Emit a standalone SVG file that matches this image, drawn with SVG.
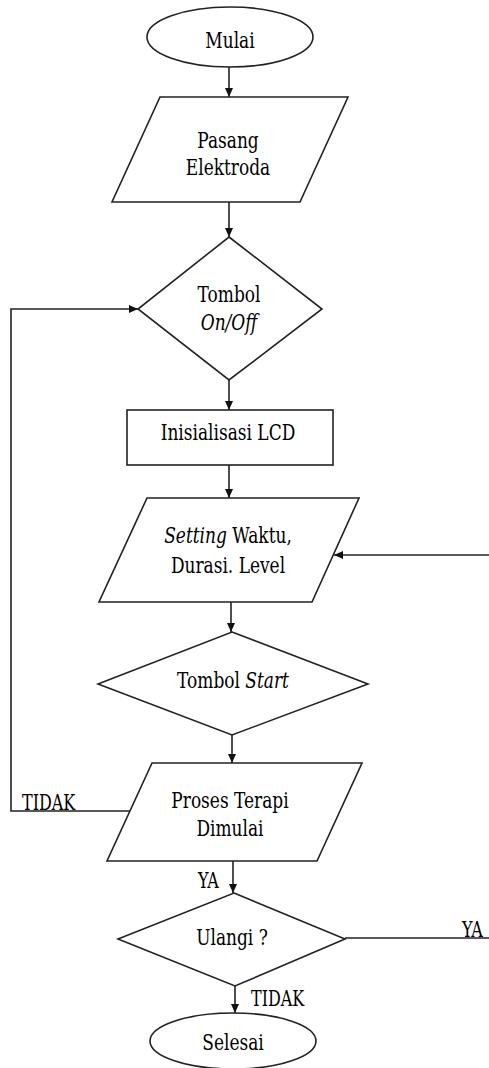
<svg xmlns="http://www.w3.org/2000/svg" width="489" height="1068" viewBox="0 0 489 1068">
<style>
.s{fill:#fff;stroke:#222;stroke-width:1.6}
.c{fill:none;stroke:#222;stroke-width:1.6}
.t{font-family:'DejaVu Serif',serif;font-size:17px;fill:#000}
.m{text-anchor:middle}
.i{font-style:italic}
.l{font-size:16px}
</style>
<defs>
<marker id="a" markerUnits="userSpaceOnUse" markerWidth="10" markerHeight="9" refX="9" refY="4" orient="auto">
<path d="M0,0 L9,4 L0,8 z" fill="#111"/>
</marker>
</defs>
<rect width="489" height="1068" fill="#fff"/>
<g id="connectors">
<line class="c" x1="229" y1="67" x2="229" y2="97" marker-end="url(#a)"/>
<line class="c" x1="229" y1="202" x2="229" y2="237" marker-end="url(#a)"/>
<line class="c" x1="229" y1="380" x2="229" y2="410" marker-end="url(#a)"/>
<line class="c" x1="229" y1="465" x2="229" y2="498" marker-end="url(#a)"/>
<line class="c" x1="231" y1="602" x2="231" y2="632" marker-end="url(#a)"/>
<line class="c" x1="232" y1="735" x2="232" y2="763" marker-end="url(#a)"/>
<line class="c" x1="233" y1="861" x2="233" y2="893" marker-end="url(#a)"/>
<line class="c" x1="235" y1="986" x2="235" y2="1013" marker-end="url(#a)"/>
<polyline class="c" points="130,811 11,811 11,309 138,309" marker-end="url(#a)"/>
<line class="c" x1="489" y1="555" x2="334" y2="555" marker-end="url(#a)"/>
<line class="c" x1="345" y1="938" x2="489" y2="938"/>
<text class="t l" x="22" y="810" transform="translate(0,-283.5) scale(1,1.35)">TIDAK</text>
<text class="t l" x="198" y="888" transform="translate(0,-310.8) scale(1,1.35)">YA</text>
<text class="t l" x="462" y="937" transform="translate(0,-327.95) scale(1,1.35)">YA</text>
<text class="t l" x="251" y="1006" transform="translate(0,-352.1) scale(1,1.35)">TIDAK</text>
</g>
<g id="mulai">
<ellipse class="s" cx="230" cy="37" rx="83" ry="30"/>
<text class="t m" x="230" y="48" transform="translate(0,-16.8) scale(1,1.35)">Mulai</text>
</g>
<g id="pasang">
<polygon class="s" points="160,97 348,97 300,202 112,202"/>
<text class="t m" x="228" y="148" transform="translate(0,-51.8) scale(1,1.35)">Pasang</text>
<text class="t m" x="228" y="175" transform="translate(0,-61.25) scale(1,1.35)">Elektroda</text>
</g>
<g id="tombol-onoff">
<polygon class="s" points="229,237 322,309 229,380 138,309"/>
<text class="t m" x="229" y="302" transform="translate(0,-105.7) scale(1,1.35)">Tombol</text>
<text class="t m i" x="229" y="330" transform="translate(0,-115.5) scale(1,1.35)">On/Off</text>
</g>
<g id="inisialisasi">
<rect class="s" x="127" y="410" width="206" height="55"/>
<text class="t m" x="228" y="440" transform="translate(0,-154) scale(1,1.35)">Inisialisasi LCD</text>
</g>
<g id="setting">
<polygon class="s" points="147,498 359,498 312,602 99,602"/>
<text class="t m" x="228" y="543" transform="translate(0,-190.05) scale(1,1.35)"><tspan class="i">Setting</tspan> Waktu,</text>
<text class="t m" x="228" y="573" transform="translate(0,-200.55) scale(1,1.35)">Durasi. Level</text>
</g>
<g id="tombol-start">
<polygon class="s" points="232,632 368,684 232,735 98,684"/>
<text class="t m" x="233" y="688" transform="translate(0,-240.8) scale(1,1.35)">Tombol <tspan class="i">Start</tspan></text>
</g>
<g id="proses">
<polygon class="s" points="152,763 362,763 317,861 107,861"/>
<text class="t m" x="230" y="808" transform="translate(0,-282.8) scale(1,1.35)">Proses Terapi</text>
<text class="t m" x="230" y="836" transform="translate(0,-292.6) scale(1,1.35)">Dimulai</text>
</g>
<g id="ulangi">
<polygon class="s" points="234,893 345,939 235,986 118,939"/>
<text class="t m" x="232" y="945" transform="translate(0,-330.75) scale(1,1.35)">Ulangi ?</text>
</g>
<g id="selesai">
<ellipse class="s" cx="233" cy="1041" rx="83" ry="28"/>
<text class="t m" x="233" y="1050" transform="translate(0,-367.5) scale(1,1.35)">Selesai</text>
</g>
</svg>
